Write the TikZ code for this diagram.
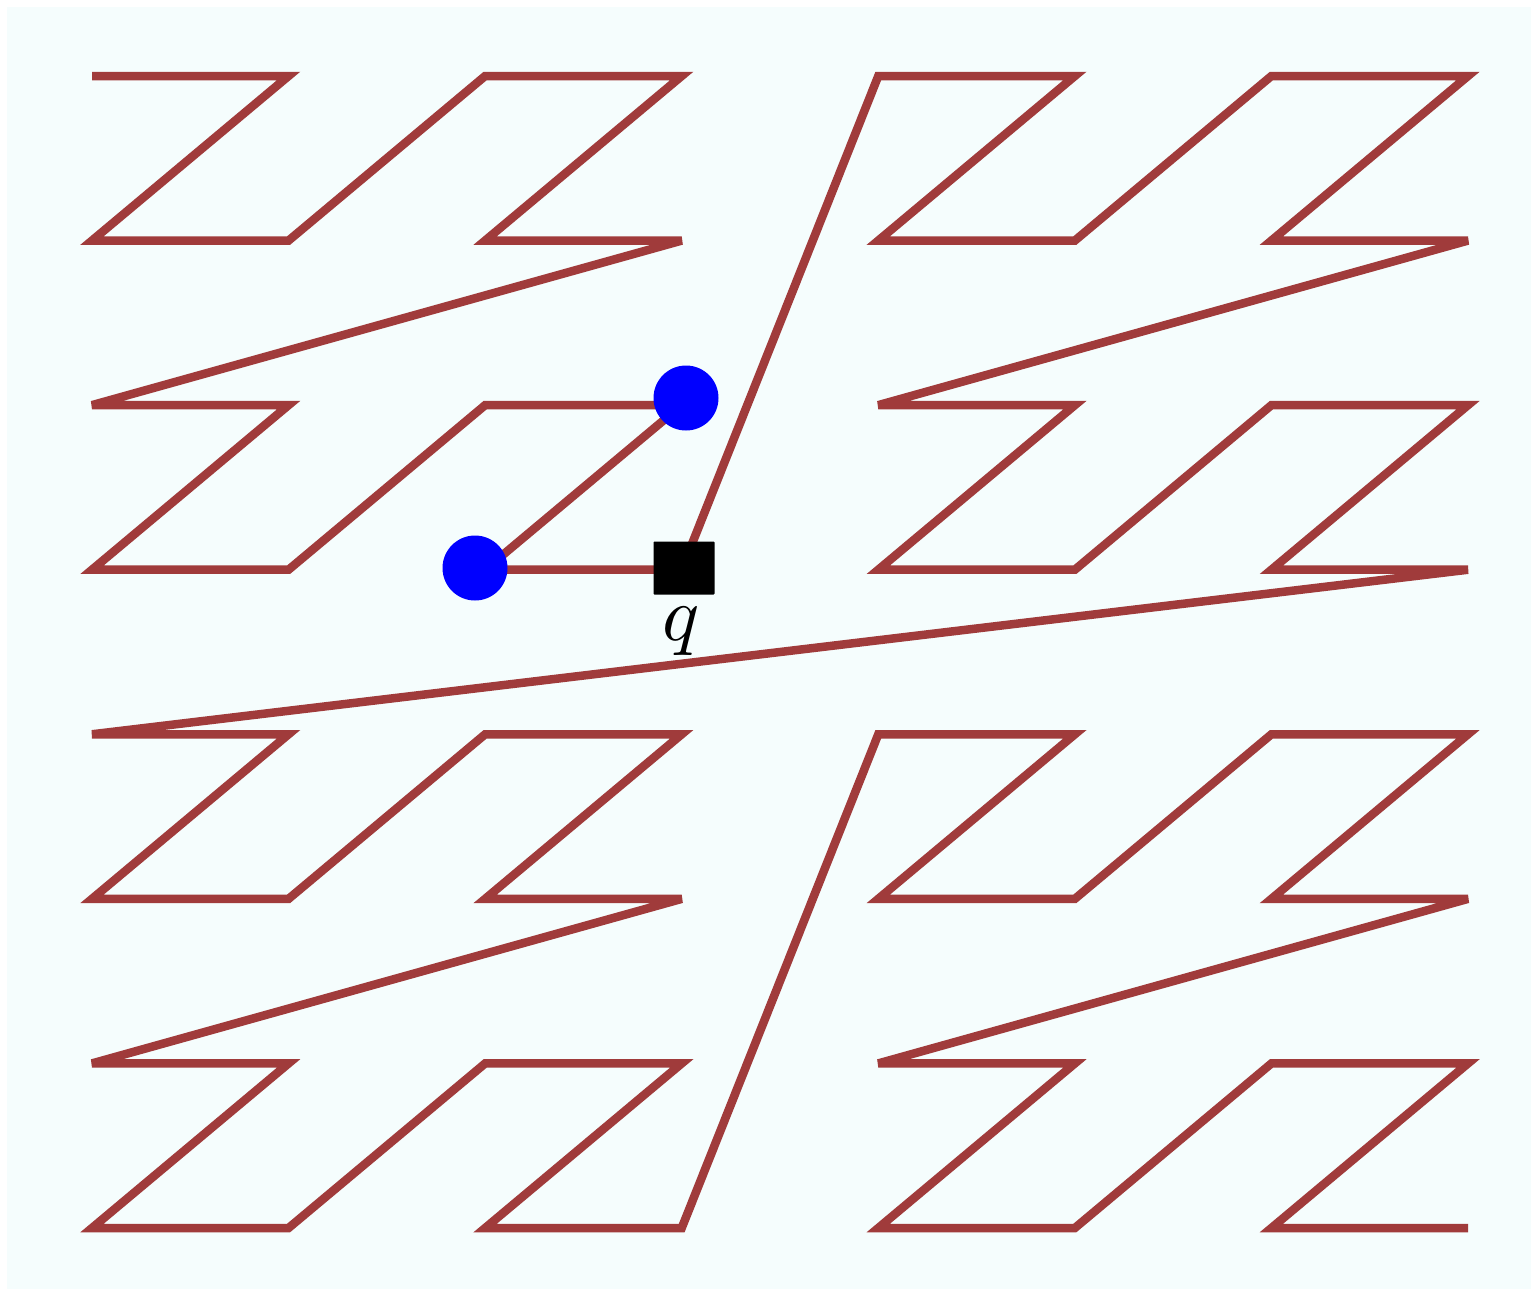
\documentclass[tikz,border=0pt]{standalone}
\usepackage{tikz}
\definecolor{col1}{RGB}{160,59,59}
\definecolor{col2}{RGB}{245,253,253}
\definecolor{col3}{RGB}{0,0,255}

\begin{document}
\begin{tikzpicture}[x=0.02cm, y=-0.02cm]
    \tikzstyle{curve} = [draw=col1, line width=0.17cm, line join=miter, miter limit=4];
    \tikzstyle{dot} = [circle, fill=col3, inner sep=0pt, minimum size=1.3cm];
    \tikzstyle{sq} = [rectangle, fill=black, inner sep=0pt, rounded corners=0.5pt,
                      minimum width=1.22cm, minimum height=1.06cm];
    \useasboundingbox (0,0) rectangle (1531,1289);
    \fill[col2] (7,7) rectangle (1531,1289);

    % grid points in z-order
    \foreach \n in {0,...,63} {
      \pgfmathtruncatemacro\ix{mod(\n,2)+2*mod(int(\n/4),2)+4*mod(int(\n/16),2)}
      \pgfmathtruncatemacro\iy{mod(int(\n/2),2)+2*mod(int(\n/8),2)+4*mod(int(\n/32),2)}
      \coordinate (z_\n) at ({92+196.57*\ix}, {76+164.57*\iy});
    }
    \draw[curve] (z_0) \foreach \n in {1,...,63} { -- (z_\n) };

    \node (p_1) at (475, 568) [dot] {};
    \node (p_2) at (686, 398) [dot] {};
    \node (q)   at (684, 568) [sq] {};
    \node (q_lab) at (681, 640) [anchor=base, scale=4.4, inner sep=0pt] {$q$};
  \end{tikzpicture}
\end{document}
